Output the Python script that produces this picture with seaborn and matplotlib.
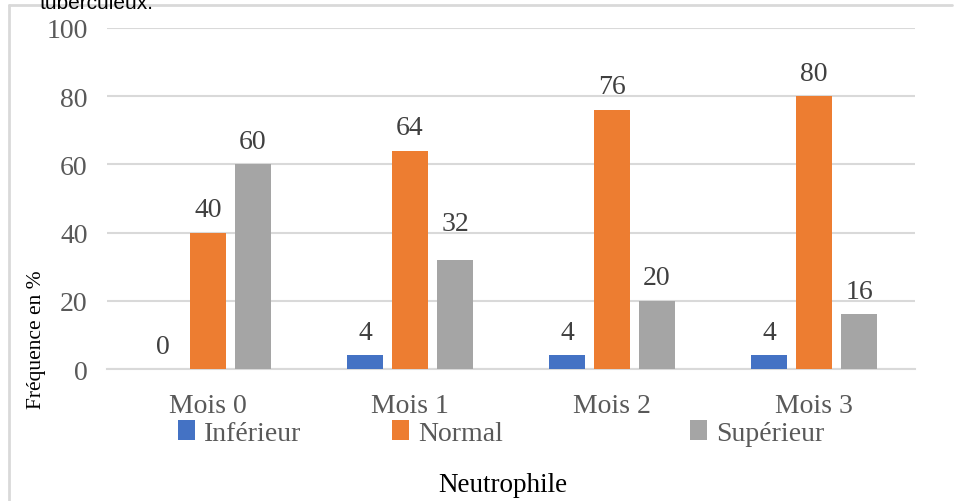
import matplotlib
matplotlib.use("Agg")
import matplotlib.pyplot as plt
from matplotlib.lines import Line2D
from matplotlib.patches import Patch
import seaborn as sns
import pandas as pd

# Neutrophil level distribution per month (percent of patients)
months = ["Mois 0", "Mois 1", "Mois 2", "Mois 3"]
series = ["Inférieur", "Normal", "Supérieur"]
inferieur = [0, 4, 4, 4]
normal = [40, 64, 76, 80]
superieur = [60, 32, 20, 16]
y_ticks = [0, 20, 40, 60, 80, 100]

colors = {"Inférieur": "#4472C4", "Normal": "#ED7D31", "Supérieur": "#A5A5A5"}

df = pd.DataFrame({
    "Mois": months * 3,
    "Niveau": [s for s in series for _ in months],
    "Fréquence": inferieur + normal + superieur,
})

sns.set_theme(style="white")
plt.rcParams["font.family"] = ["Liberation Serif", "DejaVu Serif"]

fig = plt.figure(figsize=(9.56, 5.02), dpi=100)
ax = fig.add_axes([107 / 956, 1 - 370 / 502, 808 / 956, 341 / 502])

sns.barplot(data=df, x="Mois", y="Fréquence", hue="Niveau", order=months,
            hue_order=series, palette=colors, width=0.669, gap=0.2,
            saturation=1, legend=False, ax=ax, zorder=3, linewidth=0)

ax.set_ylim(0, 100)
ax.set_xlim(-0.5, 3.5)
ax.set_yticks(y_ticks)
ax.yaxis.grid(True, color="#D9D9D9", linewidth=1.5, zorder=0)
ax.set_axisbelow(True)
for side in ["top", "right", "left"]:
    ax.spines[side].set_visible(False)
ax.spines["bottom"].set_color("#D9D9D9")
ax.spines["bottom"].set_linewidth(1.5)
ax.tick_params(axis="both", length=0, labelsize=20, labelcolor="#595959")
ax.tick_params(axis="y", pad=14)
ax.tick_params(axis="x", pad=17)
ax.set_xlabel("")
ax.set_ylabel("")

# value labels above each bar; the "32" label sits a little higher
extra = {("Supérieur", 1): 10}
for container, name in zip(ax.containers, series):
    for i, bar in enumerate(container):
        v = bar.get_height()
        ax.annotate(f"{v:g}", (bar.get_x() + bar.get_width() / 2, v),
                    xytext=(0, 16.5 + extra.get((name, i), 0)),
                    textcoords="offset points", ha="center", va="center",
                    fontsize=20, color="#404040", zorder=4)

# legend entries placed individually below the month labels
legend_x = [178 / 956, 392 / 956, 690 / 956]
for name, lx in zip(series, legend_x):
    leg = fig.legend(handles=[Patch(facecolor=colors[name], edgecolor="none")],
                     labels=[name], loc="center left",
                     bbox_to_anchor=(lx, 1 - 434 / 502), frameon=False,
                     fontsize=20, handlelength=0.6, handleheight=0.75,
                     handletextpad=0.35, borderpad=0, borderaxespad=0)
    for t in leg.get_texts():
        t.set_color("#595959")

fig.text(36 / 956, 1 - 340 / 502, "Fréquence en %", rotation=90,
         ha="center", va="center", fontsize=15.5, color="black")
fig.text(503 / 956, 1 - 486 / 502, "Neutrophile", ha="center", va="center",
         fontsize=19.5, color="black")

# outer chart frame (left and top edges) and the caption above it
frame_color = "#D9D9D9"
fig.add_artist(Line2D([9 / 956, 9 / 956], [0, 1 - 6 / 502],
                      transform=fig.transFigure, color=frame_color, linewidth=2))
fig.add_artist(Line2D([9 / 956, 952 / 956], [1 - 6 / 502, 1 - 6 / 502],
                      transform=fig.transFigure, color=frame_color, linewidth=2))
fig.text(40 / 956, 1 - 9 / 502, "tuberculeux.", ha="left", va="baseline",
         fontsize=15, color="black", family=["Liberation Sans", "DejaVu Sans"])

fig.savefig("out.png", dpi=100, facecolor="white")
